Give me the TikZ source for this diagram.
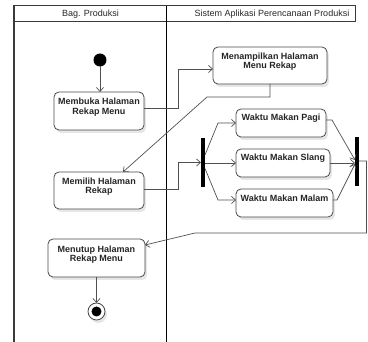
\documentclass[tikz,border=0pt]{standalone}
\usepackage{fontspec}
\setmainfont{Liberation Sans}
\usetikzlibrary{arrows.meta,shadows}

\definecolor{boxline}{HTML}{4A4A4A}
\definecolor{linegray}{HTML}{505050}
\definecolor{textgray}{HTML}{262626}
\definecolor{shadowgray}{HTML}{E6E6E6}
\definecolor{laneline}{HTML}{3A3A3A}

\begin{document}
\begin{tikzpicture}[x=1pt,y=-1pt,
  every node/.style={inner sep=0pt,outer sep=0pt},
  act/.style={draw=boxline,line width=0.8pt,rounded corners=5pt,fill=white,
    drop shadow={shadow xshift=2pt,shadow yshift=-3pt,fill=shadowgray,opacity=1}},
  txt/.style={font=\bfseries\fontsize{9}{9.6}\selectfont,align=center,text=textgray},
  hdr/.style={font=\fontsize{9}{10}\selectfont,text=textgray},
  bar/.style={fill=black,minimum width=4pt,minimum height=49pt},
  flow/.style={draw=linegray,line width=0.7pt,
    -{Straight Barb[length=4pt,width=7pt]}},
  lane/.style={draw=laneline,line width=1pt},
]
\useasboundingbox (0,0) rectangle (368,342);

% swimlanes
\draw[lane] (14,6) rectangle (356,22);
\draw[lane] (14,22) -- (14,342);
\draw[line width=1pt,black] (167,6) -- (167,342);
\node[hdr] (h1) at (90.5,14) {Bag. Produksi};
\node[hdr] (h2) at (272,14) {Sistem Aplikasi Perencanaan Produksi};

% start / end
\node[circle,fill=black,minimum size=13pt] (init) at (100,60) {};
\node[circle,draw=boxline,fill=white,line width=0.8pt,minimum size=17pt,
  drop shadow={shadow xshift=2pt,shadow yshift=-3pt,fill=shadowgray,opacity=1}] (fin) at (96.5,311.5) {};
\node[circle,fill=black,minimum size=10pt] (finin) at (fin) {};

% activities
\node[act,minimum width=90pt,minimum height=38pt] (m1) at (99,111) {};
\node[txt] (t1) at (99,107) {Membuka Halaman\\Rekap Menu};
\node[act,minimum width=114pt,minimum height=37pt] (m2) at (270,65.5) {};
\node[txt] (t2) at (270,61.5) {Menampilkan Halaman\\Menu Rekap};
\node[act,minimum width=90pt,minimum height=37pt] (m3) at (99,190.5) {};
\node[txt] (t3) at (99,186.5) {Memilih Halaman\\Rekap};
\node[act,minimum width=97pt,minimum height=38pt] (m4) at (96.5,258) {};
\node[txt] (t4) at (96.5,254.5) {Menutup Halaman\\Rekap Menu};

\node[act,minimum width=90pt,minimum height=28pt] (p) at (281,123) {};
\node[txt] (tp) at (281,118.5) {Waktu Makan Pagi};
\node[act,minimum width=94pt,minimum height=28pt] (s) at (283,163) {};
\node[txt] (ts) at (283,158.5) {Waktu Makan Slang};
\node[act,minimum width=97pt,minimum height=28pt] (ml) at (284.5,203) {};
\node[txt] (tml) at (284.5,198.5) {Waktu Makan Malam};

% fork / join bars
\node[bar] (fork) at (203,162.5) {};
\node[bar] (join) at (357,162) {};

% bend points
\coordinate (k1) at (178,108);
\coordinate (k2) at (207,97);
\coordinate (k3) at (178,189);
\coordinate (fp) at (218,123);
\coordinate (fm) at (218,200);
\coordinate (jp) at (332,120);
\coordinate (jm) at (337,200);
\coordinate (r1) at (366.5,161);
\coordinate (r2) at (366.5,233);
\coordinate (r3) at (195,233);

% flows
\draw[flow] (init.south) -- (init.south |- m1.north);
\draw[flow] ([yshift=3pt]m1.east) -- (k1) |- ([yshift=-3.5pt]m2.west);
\draw[flow] (m2.south) |- (k2) -- ([xshift=24pt]m3.north);
\draw[flow] ([yshift=1.5pt]m3.east) -- (k3) |- (fork.west);
\draw[flow] ([yshift=7.5pt]fork.east) -- (fp) -- (p.west);
\draw[flow] (fork.east |- s.west) -- (s.west);
\draw[flow] ([yshift=-6pt]fork.east) -- (fm) -- ([yshift=3pt]ml.west);
\draw[flow] ([yshift=3pt]p.east) -- (jp) -- ([yshift=2pt]join.west);
\draw[flow] (s.east) -- (join.west |- s.east);
\draw[flow] ([yshift=3pt]ml.east) -- (jm) -- ([yshift=-2pt]join.west);
\draw[flow] ([yshift=1pt]join.east) -- (r1) -- (r2) -- (r3) -- ([yshift=13pt]m4.east);
\draw[flow] (m4.south) -- (fin.north);
\end{tikzpicture}
\end{document}
